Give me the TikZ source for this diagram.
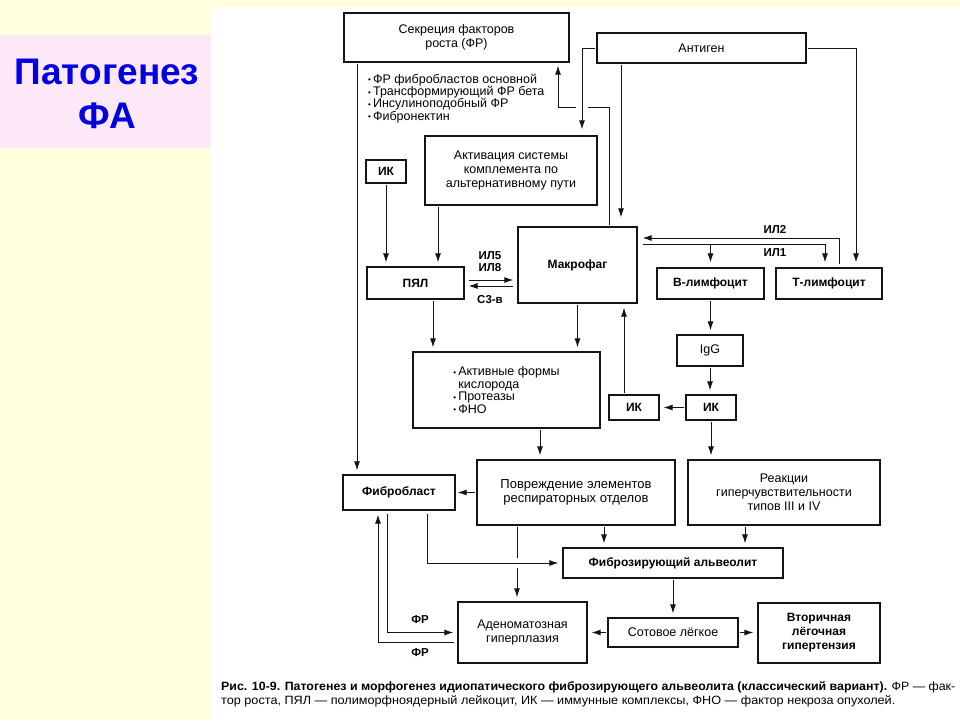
\documentclass[tikz,border=0pt]{standalone}
\usepackage{fontspec}
\setmainfont{Liberation Sans}
\usepackage{graphicx}
\usetikzlibrary{arrows.meta,positioning}

\definecolor{bgyellow}{RGB}{255,255,222}
\definecolor{titlepink}{RGB}{253,232,248}
\definecolor{titleblue}{RGB}{0,0,225}
\definecolor{ink}{RGB}{20,20,20}

\newcommand{\bul}{{\fontsize{8}{8}\selectfont\raisebox{0.6pt}{•}}\,}

\tikzset{
  blk/.style={draw=ink, line width=1.2pt, inner sep=1pt, align=center,
    font=\fontsize{12.5}{14}\selectfont},
  blkb/.style={blk, font=\bfseries\fontsize{12}{14}\selectfont},
  lbl/.style={inner sep=0pt, align=center, font=\bfseries\fontsize{11.5}{12}\selectfont},
  arr/.style={draw=ink, line width=1pt, -{Latex[length=9pt,width=6pt]},
    shorten >=4pt, shorten <=1pt},
}

\begin{document}
\begin{tikzpicture}[x=1pt,y=-1pt]
  \useasboundingbox (0,0) rectangle (960,720);
  \fill[bgyellow] (0,0) rectangle (960,720);
  \fill[white] (211,7) rectangle (960,720);
  \fill[titlepink] (0,35) rectangle (211,148);
  \node[font=\bfseries\fontsize{37}{44}\selectfont, text=titleblue, align=center]
    (title) at (107,94) {Патогенез\\ФА};

  % boxes
  \node[blk, minimum width=225pt, minimum height=49pt] (sek) at (456.5,37.5)
    {Секреция факторов\\роста (ФР)};
  \node[blk, minimum width=209pt, minimum height=30pt] (antigen) at (701.5,48) {Антиген};
  \node[inner sep=0pt, anchor=north west, align=left, font=\fontsize{12.5}{12.2}\selectfont]
    (frlist) at (368,74) {\bul ФР фибробластов основной\\\bul Трансформирующий ФР бета\\
    \bul Инсулиноподобный ФР\\\bul Фибронектин};
  \node[blkb, minimum width=40pt, minimum height=23pt] (ik1) at (386,171.5) {ИК};
  \node[blk, minimum width=172pt, minimum height=69pt] (akt) at (511,170.5)
    {Активация системы\\комплемента по\\альтернативному пути};
  \node[blkb, minimum width=97pt, minimum height=32pt] (pyal) at (415.5,283) {ПЯЛ};
  \node[blkb, minimum width=119pt, minimum height=76pt] (makr) at (577.5,265) {Макрофаг};
  \node[blkb, minimum width=107pt, minimum height=31pt] (blym) at (710.5,283.5) {В-лимфоцит};
  \node[blkb, minimum width=106pt, minimum height=31pt] (tlym) at (829,283.5) {Т-лимфоцит};
  \node[blk, align=left, minimum width=187pt, minimum height=76pt,
    font=\fontsize{12.5}{12.5}\selectfont] (afk) at (506.5,390)
    {\bul Активные формы\\\hspace{5pt}кислорода\\\bul Протеазы\\\bul ФНО};
  \node[blk, minimum width=66pt, minimum height=31pt] (igg) at (710,350.5) {IgG};
  \node[blkb, minimum width=50pt, minimum height=25pt] (ik2) at (711,407.5) {ИК};
  \node[blkb, minimum width=50pt, minimum height=25pt] (ik3) at (634,407.5) {ИК};
  \node[blkb, minimum width=112pt, minimum height=35pt] (fib) at (399,492.5) {Фибробласт};
  \node[blk, minimum width=198pt, minimum height=65pt, font=\fontsize{13}{14}\selectfont]
    (povr) at (576,492.5) {Повреждение элементов\\респираторных отделов};
  \node[blk, minimum width=192pt, minimum height=65pt] (reak) at (784,492.5)
    {Реакции\\гиперчувствительности\\типов III и IV};
  \node[blkb, minimum width=220pt, minimum height=30pt] (fza) at (673,563)
    {Фиброзирующий альвеолит};
  \node[blk, minimum width=129pt, minimum height=61pt] (aden) at (522.5,632.5)
    {Аденоматозная\\гиперплазия};
  \node[blk, minimum width=130pt, minimum height=29pt] (sot) at (673,632.5) {Сотовое лёгкое};
  \node[blkb, minimum width=122pt, minimum height=60pt] (vtor) at (819,633)
    {Вторичная\\лёгочная\\гипертензия};

  % lanes of the connectors
  \coordinate (xFR) at (357,0);
  \coordinate (xAk) at (438,0);
  \coordinate (xAg) at (582,0);
  \coordinate (xAgM) at (621,0);
  \coordinate (xMS) at (609,0);
  \coordinate (xSek) at (558,0);
  \coordinate (yMS) at (0,107);
  \coordinate (xIL2) at (839,0);
  \coordinate (xIL1) at (825,0);
  \coordinate (xAgT) at (856,0);
  \coordinate (yIL2) at (0,238);
  \coordinate (yIL1) at (0,244);
  \coordinate (xIKM) at (624,0);
  \coordinate (xPA) at (433,0);
  \coordinate (xAP) at (540,0);
  \coordinate (xRF) at (745,0);
  \coordinate (xPF) at (604,0);
  \coordinate (xFA) at (517,0);
  \coordinate (xF1) at (427,0);
  \coordinate (xF2) at (387,0);
  \coordinate (xF3) at (378,0);
  \coordinate (yF3) at (0,642);

  % upper part
  \draw[arr] (sek.south -| xFR) -- (fib.north -| xFR);
  \draw[arr] (ik1.south) -- (ik1.south |- pyal.north);
  \draw[arr] (akt.south -| xAk) -- (pyal.north -| xAk);
  \draw[arr, shorten <=4pt] ([yshift=3pt]pyal.east) -- ([yshift=-15pt]makr.west);
  \draw[arr, shorten <=4pt] ([yshift=-21pt]makr.west) -- ([yshift=-3pt]pyal.east);
  \node[lbl] (il58) at (490,262) {ИЛ5\\ИЛ8};
  \node[lbl] (c3b) at (490,300) {С3-в};
  \draw[arr, shorten >=3pt] (makr.north -| xMS) |- (xSek |- yMS) -- (sek.south -| xSek);
  \fill[white] (xAg |- yMS) ++(-6,-2.5) rectangle ++(12,5);
  \draw[arr, shorten >=6pt] (antigen.west) -| (akt.north -| xAg);
  \draw[arr, shorten >=9pt] (antigen.south -| xAgM) -- (makr.north -| xAgM);
  \draw[arr, shorten >=5pt] (antigen.east) -| (tlym.north -| xAgT);
  \draw[arr, shorten <=3pt, shorten >=5pt] (tlym.north -| xIL2) |- (makr.east |- yIL2);
  \draw[arr, shorten <=5pt, shorten >=5pt] (makr.east |- yIL1) -| (tlym.north -| xIL1);
  \draw[arr, shorten >=5pt] (blym.north |- yIL1) -- (blym.north);
  \node[lbl] (il2) at (775,230) {ИЛ2};
  \node[lbl] (il1) at (775,253) {ИЛ1};

  % middle part
  \draw[arr] (blym.south) -- (blym.south |- igg.north);
  \draw[arr] (igg.south) -- (igg.south |- ik2.north);
  \draw[arr] (ik2.west) -- (ik3.east);
  \draw[arr] (ik3.north -| xIKM) -- (makr.south -| xIKM);
  \draw[arr] (ik2.south) -- (ik2.south |- reak.north);
  \draw[arr] (pyal.south -| xPA) -- (afk.north -| xPA);
  \draw[arr] (makr.south) -- (makr.south |- afk.north);
  \draw[arr] (afk.south -| xAP) -- (povr.north -| xAP);
  \draw[arr, shorten >=2pt] (povr.west) -- (fib.east);

  % lower part
  \draw[arr] (reak.south -| xRF) -- (fza.north -| xRF);
  \draw[arr] (povr.south -| xPF) -- (fza.north -| xPF);
  \draw[arr] (povr.south -| xFA) -- (aden.north -| xFA);
  \fill[white] (xFA |- fza.west) ++(-2.5,-5) rectangle ++(5,10);
  \draw[arr, shorten <=3pt] (fib.south -| xF1) |- (fza.west);
  \draw[arr, shorten <=3pt] (fib.south -| xF2) |- (aden.west);
  \draw[arr, shorten <=3pt] (aden.west |- yF3) -| (fib.south -| xF3);
  \node[lbl] (fr1) at (420,620) {ФР};
  \node[lbl] (fr2) at (420,653) {ФР};
  \draw[arr] (fza.south) -- (sot.north);
  \draw[arr] (sot.west) -- (aden.east);
  \draw[arr] (sot.east) -- (sot.east -| vtor.west);

  % caption
  \node[anchor=west, inner sep=0pt, font=\fontsize{12}{14}\selectfont] (cap1) at (221,687)
    {\resizebox{734pt}{\height}{\textbf{Рис. 10-9. Патогенез и морфогенез идиопатического
    фиброзирующего альвеолита (классический вариант).} ФР — фак-}};
  \node[anchor=west, inner sep=0pt, font=\fontsize{12}{14}\selectfont] (cap2) at (221,701)
    {\resizebox{674pt}{\height}{тор роста, ПЯЛ — полиморфноядерный лейкоцит, ИК — иммунные
    комплексы, ФНО — фактор некроза опухолей.}};
\end{tikzpicture}
\end{document}
